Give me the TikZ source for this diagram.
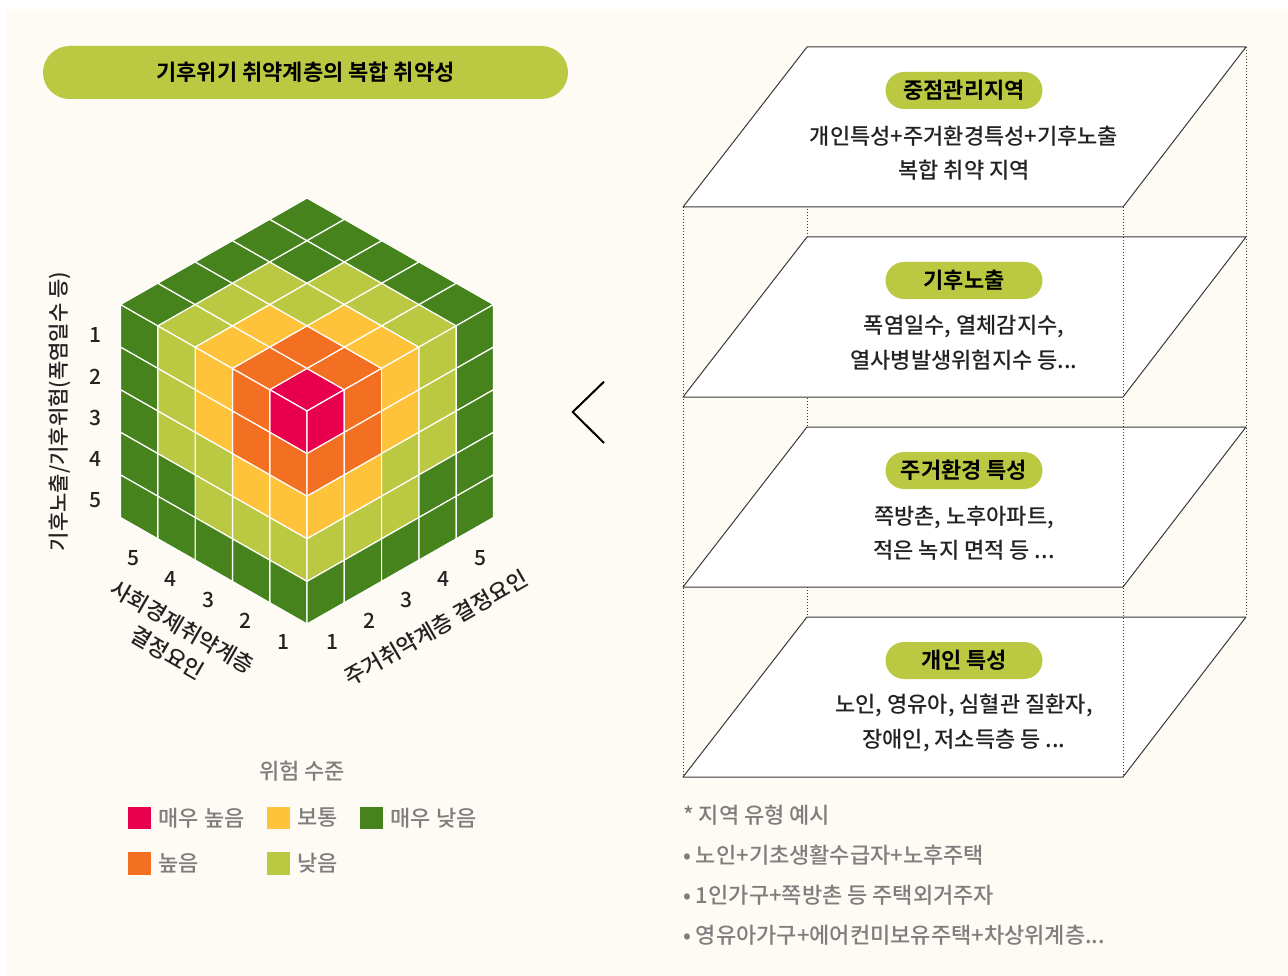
\documentclass[tikz,border=0pt]{standalone}
\usepackage{fontspec}
\setmainfont{Noto Sans CJK KR}[UprightFont=* Medium,BoldFont=* Bold]
\usetikzlibrary{positioning}
\definecolor{Paper}{HTML}{FEFAF4}
\definecolor{Ink}{HTML}{222222}
\definecolor{Grey}{HTML}{7E7E7E}
\definecolor{Edge}{HTML}{3A3A3A}
\definecolor{Lime}{HTML}{BAC941}
\definecolor{Risk1}{HTML}{E8004F}
\definecolor{Risk2}{HTML}{F37022}
\definecolor{Risk3}{HTML}{FEC33B}
\definecolor{Risk4}{HTML}{BAC941}
\definecolor{Risk5}{HTML}{46831C}

\begin{document}
\begin{tikzpicture}[x=1pt,y=-1pt,
      cell/.style={draw=white,line width=1.2pt,line join=round},
      tick/.style={font=\fontsize{21}{24}\selectfont,text=Ink,inner sep=0pt},
      axis/.style={font=\fontsize{22}{30}\selectfont,text=Ink,align=center,inner sep=0pt},
      pill/.style={fill=Lime,rounded corners=18.5pt,minimum width=157pt,minimum height=37pt,
        inner sep=0pt,font=\fontsize{22}{24}\selectfont\bfseries,text=black},
      layer/.style={draw=Edge,line width=1pt,fill=white,line join=round},
      guide/.style={draw=Edge,line width=0.8pt,dash pattern=on 1pt off 2pt},
      body/.style={font=\fontsize{22}{34.5}\selectfont,text=Ink,align=center,inner sep=0pt},
      swatch/.style={minimum size=22.4pt,inner sep=0pt},
      key/.style={font=\fontsize{22}{24}\selectfont,text=Grey,inner sep=0pt},
      note/.style={font=\fontsize{22}{24}\selectfont,text=Grey,inner sep=0pt,anchor=west}]
      \fill[white] (0,0) rectangle (1288,976);
      \useasboundingbox (0,0) rectangle (1288,976);
      \fill[Paper] (5,9) rectangle (1288,976);
      % title
      \node[fill=Lime,rounded corners=26.5pt,minimum width=525pt,minimum height=53pt,inner sep=0pt,
        font=\fontsize{22}{24}\selectfont\bfseries,text=black] (title) at (305.5,72.5)
        {기후위기 취약계층의 복합 취약성};
      % cube: top, left and right faces
      \foreach \row [count=\r] in {{1,2,3,4,5},{2,2,3,4,5},{3,3,4,4,5},{4,4,4,5,5},{5,5,5,5,5}}
        \foreach \lv [count=\c] in \row {
          \draw[cell,fill=Risk\lv] ({307+37.3*(\c-\r)},{411-21.3*(\r+\c-2)})
            -- ({307+37.3*(\c-\r-1)},{411-21.3*(\r+\c-1)})
            -- ({307+37.3*(\c-\r)},{411-21.3*(\r+\c)})
            -- ({307+37.3*(\c-\r+1)},{411-21.3*(\r+\c-1)}) -- cycle;
          \draw[cell,fill=Risk\lv] ({307-37.3*(\c-1)},{411-21.3*(\c-1)+42.6*(\r-1)})
            -- ({307-37.3*\c},{411-21.3*\c+42.6*(\r-1)})
            -- ({307-37.3*\c},{411-21.3*\c+42.6*\r})
            -- ({307-37.3*(\c-1)},{411-21.3*(\c-1)+42.6*\r}) -- cycle;
          \draw[cell,fill=Risk\lv] ({307+37.3*(\c-1)},{411-21.3*(\c-1)+42.6*(\r-1)})
            -- ({307+37.3*\c},{411-21.3*\c+42.6*(\r-1)})
            -- ({307+37.3*\c},{411-21.3*\c+42.6*\r})
            -- ({307+37.3*(\c-1)},{411-21.3*(\c-1)+42.6*\r}) -- cycle;
        }
      % axis ticks and labels
      \foreach \n in {1,...,5} {
        \node[tick] (ytick\n) at (95,{335+41.4*(\n-1)}) {\n};
        \node[tick] (stick\n) at ({283-37.5*(\n-1)},{642-21*(\n-1)}) {\n};
        \node[tick] (htick\n) at ({332+37*(\n-1)},{642-21*(\n-1)}) {\n};
      }
      \node[axis,rotate=90,font=\fontsize{21}{30}\selectfont] (ylab) at (60,411.5) {기후노출/기후위험(폭염일수 등)};
      \node[axis,rotate=-30] (slab) at (175,640) {사회경제취약계층\\결정요인};
      \node[axis,rotate=30] (hlab) at (436,628) {주거취약계층 결정요인};
      % chevron
      \draw[line width=2pt] (604,381.7) -- (572.7,412) -- (604,443);
      % stacked layers
      \draw[guide] (807,47) -- (807,617);
      \draw[guide] (1246,47) -- (1246,617);
      \foreach \yo in {47,237,427,617}
        \draw[layer] (807,\yo) -- (1246,\yo) -- (1123,{\yo+160}) -- (683,{\yo+160}) -- cycle;
      \draw[guide] (683,207) -- (683,777);
      \draw[guide] (1123,207) -- (1123,777);
      \foreach \yo/\tag/\desc in {
          47/{중점관리지역}/{개인특성+주거환경특성+기후노출\\복합 취약 지역},
          237/{기후노출}/{폭염일수, 열체감지수,\\열사병발생위험지수 등...},
          427/{주거환경 특성}/{쪽방촌, 노후아파트,\\적은 녹지 면적 등 ...},
          617/{개인 특성}/{노인, 영유아, 심혈관 질환자,\\장애인, 저소득층 등 ...}} {
        \node[pill] (tag\yo) at (964,{\yo+43.5}) {\tag};
        \node[body] (desc\yo) at (964,{\yo+106}) {\desc};
      }
      % legend
      \node[key] (keyhead) at (302,771) {위험 수준};
      \node[swatch,fill=Risk1] (sw1) at (139.5,818) {};
      \node[swatch,fill=Risk3] (sw3) at (278.6,818) {};
      \node[swatch,fill=Risk5] (sw5) at (371.5,818) {};
      \node[swatch,fill=Risk2] (sw2) at (139.5,863.5) {};
      \node[swatch,fill=Risk4] (sw4) at (278.6,863.5) {};
      \node[key,right=7.5pt of sw1] (key1) {매우 높음};
      \node[key,right=7.5pt of sw3] (key3) {보통};
      \node[key,right=7.5pt of sw5] (key5) {매우 낮음};
      \node[key,right=7.5pt of sw2] (key2) {높음};
      \node[key,right=7.5pt of sw4] (key4) {낮음};
      % notes
      \node[note] (note0) at (683,815) {* 지역 유형 예시};
      \node[note] (note1) at (683,855) {• 노인+기초생활수급자+노후주택};
      \node[note] (note2) at (683,895) {• 1인가구+쪽방촌 등 주택외거주자};
      \node[note] (note3) at (683,935) {• 영유아가구+에어컨미보유주택+차상위계층...};
    \end{tikzpicture}
\end{document}
